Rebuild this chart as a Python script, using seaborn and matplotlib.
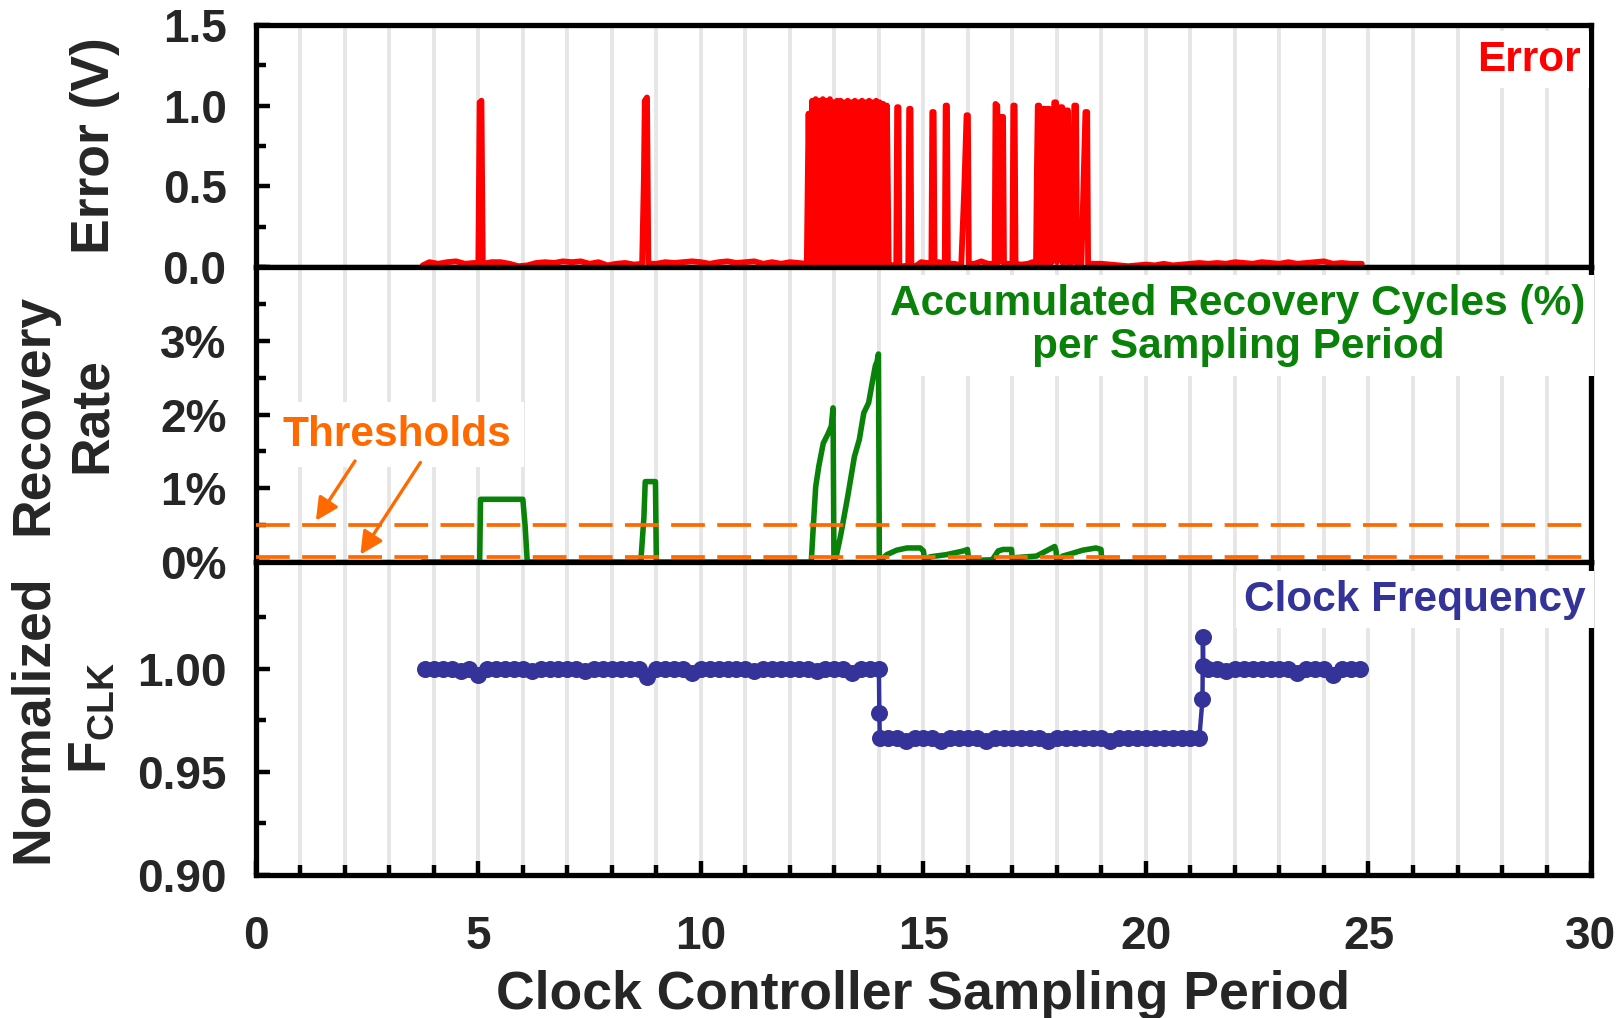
import matplotlib
matplotlib.use("Agg")
import matplotlib.pyplot as plt
import seaborn as sns
from matplotlib.ticker import MultipleLocator, FixedLocator, FuncFormatter

# ---------------- data ----------------
# Error voltage (V) trace in groups
errA_t = [3.75, 3.90, 4.10, 4.30, 4.50, 4.70, 4.90, 5.00]
errA_v = [0.01, 0.03, 0.02, 0.03, 0.035, 0.02, 0.025, 0.02]
errB_t = [5.03, 5.07, 5.10]
errB_v = [1.02, 1.03, 0.02]
errC_t = [5.30, 5.50, 5.70, 5.90, 6.10, 6.30, 6.50, 6.70, 6.90, 7.10, 7.30, 7.50,
          7.70, 7.90, 8.10, 8.30, 8.50, 8.68]
errC_v = [0.03, 0.03, 0.02, 0.005, 0.01, 0.025, 0.03, 0.025, 0.035, 0.03, 0.035, 0.02,
          0.03, 0.01, 0.02, 0.025, 0.015, 0.02]
errD_t = [8.72, 8.74, 8.79, 8.82]
errD_v = [0.55, 1.03, 1.05, 0.02]
errE_t = [9.00, 9.20, 9.40, 9.60, 9.80, 10.00, 10.20, 10.40, 10.60, 10.80, 11.00, 11.20,
          11.40, 11.60, 11.80, 12.00, 12.20, 12.38]
errE_v = [0.02, 0.03, 0.025, 0.03, 0.035, 0.03, 0.02, 0.03, 0.035, 0.025, 0.03, 0.035,
          0.02, 0.03, 0.02, 0.03, 0.025, 0.02]
errF_t = [12.42, 12.46, 12.50, 12.54, 12.58, 12.62, 12.66, 12.70, 12.74, 12.78, 12.82, 12.86,
          12.90, 12.94, 12.98, 13.02, 13.06, 13.10, 13.14, 13.18, 13.22, 13.26, 13.30, 13.34,
          13.38, 13.42, 13.46, 13.50, 13.54, 13.58, 13.62, 13.66, 13.70, 13.74, 13.78, 13.82,
          13.86, 13.90, 13.94, 13.98, 14.02, 14.06, 14.10, 14.14, 14.18, 14.22]
errF_v = [0.95, 0.02, 1.03, 0.03, 1.04, 0.02, 1.03, 0.03, 1.04, 0.02, 1.03, 0.02,
          1.04, 0.03, 1.02, 0.02, 1.03, 0.03, 1.03, 0.02, 1.02, 0.02, 1.03, 0.03,
          1.02, 0.02, 1.03, 0.02, 1.02, 0.03, 1.03, 0.02, 1.02, 0.02, 1.03, 0.03,
          1.02, 0.02, 1.03, 0.02, 1.02, 0.03, 1.01, 0.02, 1.00, 0.02]
errG_t = [14.30, 14.39, 14.41, 14.44, 14.46, 14.55, 14.66, 14.68, 14.71, 14.73, 14.85, 14.95,
          15.08, 15.18, 15.20, 15.23, 15.25, 15.35, 15.48, 15.50, 15.53, 15.55, 15.70, 15.85,
          15.92, 15.97, 16.00, 16.02, 16.15, 16.30, 16.45, 16.60, 16.62, 16.66, 16.69, 16.75,
          16.79, 16.81, 16.90, 17.00, 17.02, 17.05, 17.07, 17.20, 17.35, 17.45, 17.53, 17.55,
          17.57, 17.60, 17.63, 17.68, 17.72, 17.75, 17.79, 17.83, 17.86, 17.94, 17.98, 18.00,
          18.08, 18.12, 18.14, 18.21, 18.25, 18.27, 18.34, 18.39, 18.43, 18.45, 18.55, 18.64,
          18.68, 18.70, 18.85]
errG_v = [0.01, 0.01, 0.99, 0.99, 0.00, 0.005, 0.01, 0.98, 0.98, 0.00, 0.01, 0.03,
          0.025, 0.02, 0.96, 0.96, 0.02, 0.03, 0.02, 1.00, 1.00, 0.02, 0.02, 0.01,
          0.50, 0.94, 0.94, 0.02, 0.02, 0.035, 0.02, 0.02, 1.01, 1.00, 0.03, 0.93,
          0.93, 0.02, 0.02, 0.02, 1.00, 1.00, 0.02, 0.015, 0.02, 0.03, 0.02, 0.60,
          1.00, 1.00, 0.02, 0.98, 0.98, 0.02, 0.98, 0.98, 0.02, 1.02, 1.02, 0.03,
          0.99, 0.99, 0.02, 0.97, 0.97, 0.02, 0.03, 1.00, 1.00, 0.02, 0.02, 0.96,
          0.96, 0.02, 0.02]
errH_t = [19.00, 19.20, 19.40, 19.60, 19.80, 20.00, 20.20, 20.40, 20.60, 20.80, 21.00, 21.20,
          21.40, 21.60, 21.80, 22.00, 22.20, 22.40, 22.60, 22.80, 23.00, 23.20, 23.40, 23.60,
          23.80, 24.00, 24.20, 24.40, 24.60, 24.85]
errH_v = [0.02, 0.015, 0.01, 0.005, 0.01, 0.015, 0.01, 0.02, 0.01, 0.015, 0.02, 0.025,
          0.02, 0.025, 0.02, 0.03, 0.025, 0.02, 0.03, 0.025, 0.02, 0.03, 0.02, 0.025,
          0.03, 0.035, 0.02, 0.025, 0.02, 0.02]

# Accumulated recovery cycles (%) per sampling period
rr_t = [3.75, 5.03, 5.05, 6.00, 6.05, 6.10, 8.65, 8.72, 8.75, 8.98, 9.00, 12.48,
        12.53, 12.58, 12.65, 12.75, 12.85, 12.93, 12.97, 12.99, 13.05, 13.15, 13.30, 13.45,
        13.56, 13.66, 13.77, 13.85, 13.92, 13.96, 13.99, 14.01, 14.05, 14.18, 14.40, 14.63,
        14.93, 15.00, 15.03, 15.15, 15.52, 15.90, 15.99, 16.02, 16.55, 16.57, 16.68, 16.79,
        16.98, 17.00, 17.09, 17.54, 17.76, 17.95, 17.98, 18.00, 18.13, 18.36, 18.58, 18.88,
        18.99, 19.01, 24.85]
rr_v = [0.0, 0.0, 0.85, 0.85, 0.50, 0.0, 0.0, 0.60, 1.09, 1.09, 0.0, 0.0,
        0.52, 1.02, 1.30, 1.61, 1.73, 1.84, 2.09, 0.0, 0.10, 0.39, 0.89, 1.43,
        1.66, 2.02, 2.16, 2.43, 2.66, 2.72, 2.82, 0.0, 0.03, 0.10, 0.16, 0.19,
        0.19, 0.15, 0.02, 0.07, 0.10, 0.15, 0.17, 0.02, 0.03, 0.05, 0.15, 0.17,
        0.17, 0.02, 0.06, 0.08, 0.15, 0.21, 0.15, 0.02, 0.08, 0.12, 0.16, 0.19,
        0.17, 0.0, 0.0]
thresholds = [0.5, 0.07]

# Normalized clock frequency
fc1_t = [3.8, 4.0, 4.2, 4.4, 4.6, 4.8, 5.0, 5.2, 5.4, 5.6,
         5.8, 6.0, 6.2, 6.4, 6.6, 6.8, 7.0, 7.2, 7.4, 7.6,
         7.8, 8.0, 8.2, 8.4, 8.6, 8.8, 9.0, 9.2, 9.4, 9.6,
         9.8, 10.0, 10.2, 10.4, 10.6, 10.8, 11.0, 11.2, 11.4, 11.6,
         11.8, 12.0, 12.2, 12.4, 12.6, 12.8, 13.0, 13.2, 13.4, 13.6,
         13.8, 14.0]
fc1_v = [1.000, 1.000, 1.000, 1.000, 0.999, 1.000, 0.997, 1.000, 1.000, 1.000,
         1.000, 1.000, 0.999, 1.000, 1.000, 1.000, 1.000, 1.000, 0.999, 1.000,
         1.000, 1.000, 1.000, 1.000, 1.000, 0.996, 1.000, 1.000, 1.000, 1.000,
         0.998, 1.000, 1.000, 1.000, 1.000, 1.000, 1.000, 0.999, 1.000, 1.000,
         1.000, 1.000, 1.000, 1.000, 0.999, 1.000, 1.000, 1.000, 0.998, 1.000,
         1.000, 1.000]
fc2_t = [14.01, 14.02]
fc2_v = [0.9785, 0.9665]
fc3_t = [14.2, 14.4, 14.6, 14.8, 15.0, 15.2, 15.4, 15.6, 15.8, 16.0,
         16.2, 16.4, 16.6, 16.8, 17.0, 17.2, 17.4, 17.6, 17.8, 18.0,
         18.2, 18.4, 18.6, 18.8, 19.0, 19.2, 19.4, 19.6, 19.8, 20.0,
         20.2, 20.4, 20.6, 20.8, 21.0, 21.2]
fc3_v = [0.9665, 0.9665, 0.965, 0.9665, 0.9665, 0.9665, 0.965, 0.9665, 0.9665, 0.9665,
         0.9665, 0.965, 0.9665, 0.9665, 0.9665, 0.9665, 0.9665, 0.9665, 0.965, 0.9665,
         0.9665, 0.9665, 0.9665, 0.9665, 0.9665, 0.965, 0.9665, 0.9665, 0.9665, 0.9665,
         0.9665, 0.9665, 0.9665, 0.9665, 0.9665, 0.9665]
fc4_t = [21.27, 21.28, 21.29]
fc4_v = [0.985, 1.0155, 1.001]
fc5_t = [21.4, 21.6, 21.8, 22.0, 22.2, 22.4, 22.6, 22.8, 23.0, 23.2,
         23.4, 23.6, 23.8, 24.0, 24.2, 24.4, 24.6, 24.8]
fc5_v = [1.000, 1.000, 0.999, 1.000, 1.000, 1.000, 1.000, 1.000, 1.000, 1.000,
         0.998, 1.000, 1.000, 1.000, 0.997, 1.000, 1.000, 1.000]

err_t = errA_t + errB_t + errC_t + errD_t + errE_t + errF_t + errG_t + errH_t
err_v = errA_v + errB_v + errC_v + errD_v + errE_v + errF_v + errG_v + errH_v
fc_t = fc1_t + fc2_t + fc3_t + fc4_t + fc5_t
fc_v = fc1_v + fc2_v + fc3_v + fc4_v + fc5_v

# ---------------- style ----------------
sns.set_theme(style="white")
plt.rcParams['font.family'] = ['Liberation Sans', 'DejaVu Sans']
plt.rcParams['font.weight'] = 'bold'
plt.rcParams['axes.labelweight'] = 'bold'
plt.rcParams['mathtext.fontset'] = 'custom'
plt.rcParams['mathtext.bf'] = 'Liberation Sans:bold'
plt.rcParams['mathtext.rm'] = 'Liberation Sans:bold'

RED = '#ff0000'
GREEN = '#0a820a'
BLUE = '#333399'
ORANGE = '#ff6a00'
GRID = '#e6e6e6'
TICK_FS = 33
LAB_FS = 38.5
ANN_FS = 30.5

fig, axes = plt.subplots(3, 1, figsize=(16.23, 10.18), dpi=100, sharex=True,
                         gridspec_kw=dict(height_ratios=[242.2, 295, 312.6], hspace=0))
fig.subplots_adjust(left=0.1576, right=0.9803, top=0.9756, bottom=0.1409)
ax1, ax2, ax3 = axes

# data
sns.lineplot(x=err_t, y=err_v, ax=ax1, color=RED, estimator=None, sort=False,
             legend=False, linewidth=4.2, zorder=3)
sns.lineplot(x=rr_t, y=rr_v, ax=ax2, color=GREEN, estimator=None, sort=False,
             legend=False, linewidth=4.0, zorder=3)
for th in thresholds:
    ax2.axhline(th, color=ORANGE, lw=2.7, dashes=(9, 3.3), zorder=4)
sns.lineplot(x=fc_t, y=fc_v, ax=ax3, color=BLUE, estimator=None, sort=False,
             legend=False, linewidth=3.2, zorder=3)
sns.scatterplot(x=fc_t, y=fc_v, ax=ax3, color=BLUE, s=150, linewidth=0,
                edgecolor=BLUE, legend=False, zorder=3.5)

# axes formatting
for ax in axes:
    ax.set_xlim(0, 30)
    ax.xaxis.set_major_locator(MultipleLocator(5))
    ax.xaxis.set_minor_locator(MultipleLocator(1))
    ax.grid(False)
    ax.grid(True, which='both', axis='x', color=GRID, lw=2.8)
    ax.set_axisbelow(True)
    for s in ax.spines.values():
        s.set_color('black')
        s.set_linewidth(3.8)
    ax.tick_params(axis='y', which='both', direction='in', left=True, right=False,
                   labelsize=TICK_FS, pad=21, color='black', width=3.2)
    ax.tick_params(axis='y', which='major', length=10)
    ax.tick_params(axis='y', which='minor', length=7)
    ax.set_xlabel('')

for ax in (ax1, ax2):
    ax.tick_params(axis='x', which='both', bottom=False, top=False, labelbottom=False)

ax3.tick_params(axis='x', which='both', direction='in', bottom=True, top=False,
                labelsize=TICK_FS, pad=29, width=3.2, color='black')
ax3.tick_params(axis='x', which='major', length=10)
ax3.tick_params(axis='x', which='minor', length=7)

ax1.set_ylim(0, 1.5)
ax1.yaxis.set_major_locator(FixedLocator([0, 0.5, 1.0, 1.5]))
ax1.yaxis.set_minor_locator(MultipleLocator(0.25))
ax1.yaxis.set_major_formatter(FuncFormatter(lambda v, p: f'{v:.1f}'))

ax2.set_ylim(0, 4)
ax2.yaxis.set_major_locator(FixedLocator([0, 1, 2, 3]))
ax2.yaxis.set_minor_locator(MultipleLocator(0.5))
ax2.yaxis.set_major_formatter(FuncFormatter(lambda v, p: f'{v:.0f}%'))

ax3.set_ylim(0.90, 1.0517)
ax3.yaxis.set_major_locator(FixedLocator([0.90, 0.95, 1.00]))
ax3.yaxis.set_minor_locator(FixedLocator([0.925, 0.975, 1.025]))
ax3.yaxis.set_major_formatter(FuncFormatter(lambda v, p: f'{v:.2f}'))

for lab in ax3.get_xticklabels() + ax1.get_yticklabels() + ax2.get_yticklabels() + ax3.get_yticklabels():
    lab.set_fontweight('bold')

# labels
ax1.set_ylabel('Error (V)', fontsize=LAB_FS, fontweight='bold')
ax2.set_ylabel('Recovery\nRate', fontsize=LAB_FS, fontweight='bold', linespacing=1.23)
ax3.set_ylabel('Normalized\nF$_{\\mathbf{CLK}}$', fontsize=LAB_FS, fontweight='bold',
               linespacing=1.23)
ax1.yaxis.set_label_coords(-0.102, 0.5)
ax2.yaxis.set_label_coords(-0.104, 0.5)
ax3.yaxis.set_label_coords(-0.104, 0.5)
ax3.set_xlabel('Clock Controller Sampling Period', fontsize=LAB_FS, fontweight='bold')
ax3.xaxis.set_label_coords(0.5, -0.305)

# annotations
box = dict(facecolor='white', edgecolor='none', pad=6)
ax1.text(0.992, 0.855, 'Error', transform=ax1.transAxes, ha='right', va='center',
         color=RED, fontsize=ANN_FS, fontweight='bold', bbox=box, zorder=5)
ax2.text(0.7356, 0.8017, 'Accumulated Recovery Cycles (%)\nper Sampling Period',
         transform=ax2.transAxes, ha='center', va='center', multialignment='center',
         color=GREEN, fontsize=ANN_FS, fontweight='bold', bbox=box, linespacing=1.12,
         zorder=5)
ax2.text(0.020, 0.4315, 'Thresholds', transform=ax2.transAxes, ha='left', va='center',
         color=ORANGE, fontsize=ANN_FS, fontweight='bold',
         bbox=dict(facecolor='white', edgecolor='none', pad=9), zorder=5)
ax3.text(0.996, 0.88, 'Clock Frequency', transform=ax3.transAxes, ha='right', va='center',
         color=BLUE, fontsize=ANN_FS, fontweight='bold', bbox=box, zorder=5)

arrow_kw = dict(arrowstyle='-|>', color=ORANGE, lw=2.4, mutation_scale=34,
                shrinkA=0, shrinkB=0)
ax2.annotate('', xy=(1.35, 0.56), xytext=(2.23, 1.37), arrowprops=arrow_kw, zorder=6)
ax2.annotate('', xy=(2.35, 0.10), xytext=(3.70, 1.35), arrowprops=arrow_kw, zorder=6)

fig.savefig('out.png', dpi=100)
